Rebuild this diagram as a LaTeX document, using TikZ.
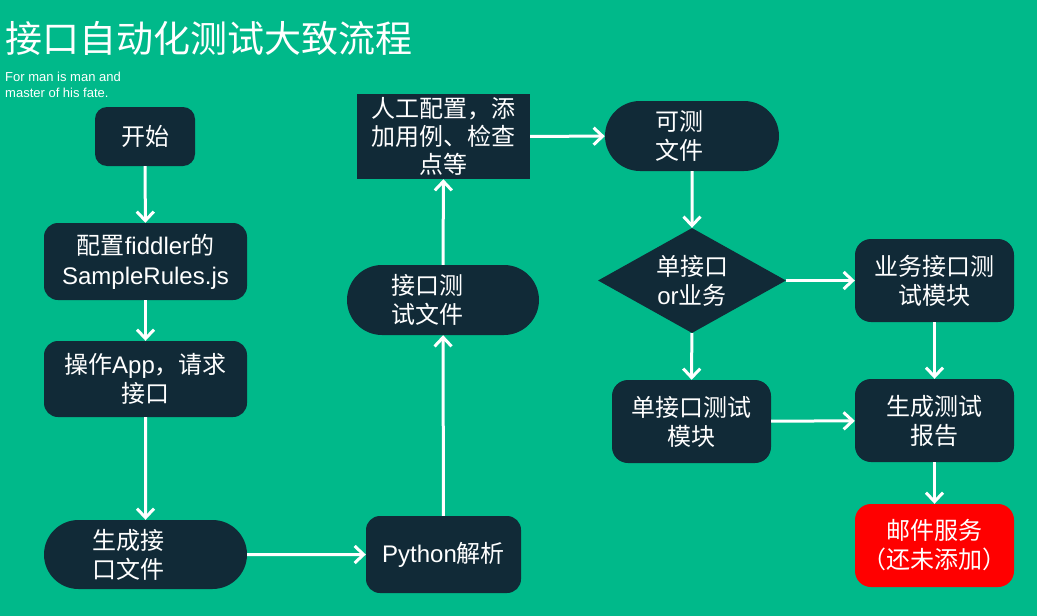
\documentclass[tikz,border=0pt]{standalone}
\usepackage{fontspec}
\usepackage{xcolor}
\usepackage{tikz}
\usetikzlibrary{arrows.meta}
\usetikzlibrary{positioning, shapes.geometric, shapes.misc}
\newfontfamily\cjkfont{Noto Sans CJK SC}
\newfontfamily\latinfont{Liberation Sans}
\definecolor{bg green}{HTML}{00B98A}
\definecolor{box dark}{HTML}{112A37}
\definecolor{box red}{HTML}{FF0000}
\tikzset{
flow box/.style = { rectangle, fill = box dark, text = white, rounded corners = 14pt, inner sep = 0pt, align = center, font = \cjkfont\fontsize{24}{29}\selectfont },
flow pill/.style = { rounded rectangle, fill = box dark, text = white, inner sep = 0pt, align = left, font = \cjkfont\fontsize{24}{29}\selectfont },
flow choice/.style = { diamond, fill = box dark, text = white, inner sep = 0pt, aspect = 1.8, align = center, font = \cjkfont\fontsize{24}{29}\selectfont },
flow arrow/.style = { draw = white, line width = 3pt, -{Straight Barb[length = 9pt, width = 17pt, line width = 3pt]} },
}

\begin{document}
\begin{tikzpicture}[x = 1pt, y = -1pt]
      \fill[bg green] (0, 0) rectangle (1037, 616);
      \useasboundingbox (0, 0) rectangle (1037, 616);
      % title
      \node[anchor = west, inner sep = 0pt, text = white, font = \cjkfont\fontsize{37}{40}\selectfont] (title) at (5, 38) {接口自动化测试大致流程};
      \node[anchor = north west, inner sep = 0pt, text = white, align = left, font = \latinfont\fontsize{13}{15.5}\selectfont] (motto) at (5, 72) {For man is man and\\master of his fate.};
      % left column
      \node[flow box, minimum width = 100pt, minimum height = 59pt, rounded corners = 12pt] (start) at (145, 136.5) {开始};
      \node[flow box, minimum width = 203pt, minimum height = 77pt, font = \cjkfont\fontsize{24}{30}\selectfont] (fiddler) at (145.5, 261.5) {配置{\latinfont fiddler}的\\{\latinfont SampleRules.js}};
      \node[flow box, minimum width = 203pt, minimum height = 76pt] (app) at (145.5, 379) {操作{\latinfont App}，请求\\接口};
      \node[flow pill, minimum width = 203pt, minimum height = 69pt, text width = 107pt] (gen) at (145.5, 554.5) {生成接\\口文件};
      % middle column
      \node[flow box, minimum width = 155pt, minimum height = 77pt] (python) at (443.5, 554.5) {{\latinfont Python}解析};
      \node[flow pill, minimum width = 192pt, minimum height = 70pt, text width = 104pt] (testfile) at (443, 300) {接口测\\试文件};
      \node[flow box, rounded corners = 0pt, minimum width = 173pt, minimum height = 85pt, font = \cjkfont\fontsize{24}{28}\selectfont] (manual) at (443.5, 136.5) {人工配置，添\\加用例、检查\\点等};
      % right columns
      \node[flow pill, minimum width = 174pt, minimum height = 70pt, text width = 74pt] (ready) at (692, 136) {可测\\文件};
      \node[flow choice, minimum width = 188pt, minimum height = 105pt] (choice) at (692, 280.5) {单接口\\{\latinfont or}业务};
      \node[flow box, minimum width = 159pt, minimum height = 83pt, rounded corners = 16pt] (biz) at (934.5, 280.5) {业务接口测\\试模块};
      \node[flow box, minimum width = 159pt, minimum height = 83pt, rounded corners = 16pt] (single) at (691.5, 421.5) {单接口测试\\模块};
      \node[flow box, minimum width = 159pt, minimum height = 83pt, rounded corners = 16pt] (report) at (934.5, 420.5) {生成测试\\报告};
      \node[flow box, fill = box red, minimum width = 159pt, minimum height = 83pt, rounded corners = 16pt] (mail) at (934.5, 545.5) {邮件服务\\（还未添加）};
      % arrows
      \draw[flow arrow] (start) -- (fiddler);
      \draw[flow arrow] (fiddler) -- (app);
      \draw[flow arrow] (app) -- (gen);
      \draw[flow arrow] (gen) -- (python);
      \draw[flow arrow] (python) -- (testfile);
      \draw[flow arrow] (testfile) -- (manual);
      \draw[flow arrow] (manual) -- (ready);
      \draw[flow arrow] (ready) -- (choice);
      \draw[flow arrow] (choice) -- (biz);
      \draw[flow arrow] (choice) -- (single);
      \draw[flow arrow] (biz) -- (report);
      \draw[flow arrow] (single) -- (report);
      \draw[flow arrow] (report) -- (mail);
    \end{tikzpicture}
\end{document}
